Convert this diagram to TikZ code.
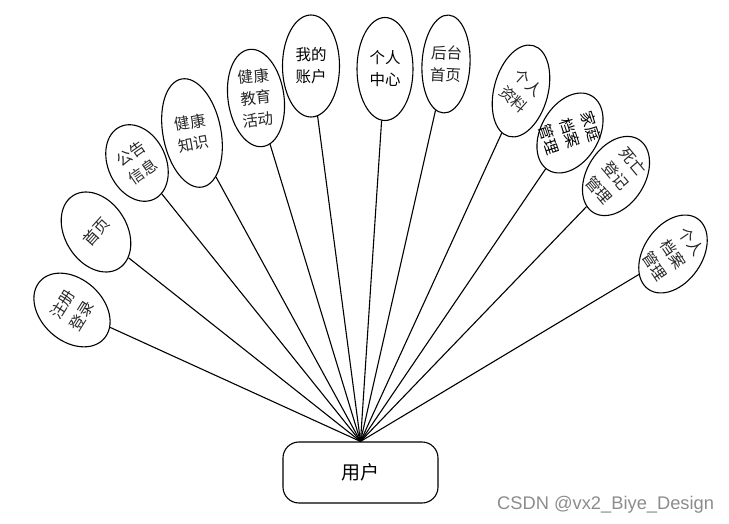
\documentclass[tikz,border=0pt]{standalone}
\usepackage{fontspec}
\setmainfont{Liberation Sans}
\newfontfamily\cjk{Noto Sans CJK SC}
\usetikzlibrary{shapes.geometric}
\begin{document}
\begin{tikzpicture}[x=1pt,y=1pt,
  bub/.style={draw, ellipse, line width=1.1pt, inner sep=0pt},
  lbl/.style={font=\cjk\fontsize{15.5}{22}\selectfont, align=center, inner sep=0pt, text=black!85},
  lbldark/.style={lbl, text=black},
  link/.style={line width=1.1pt},
  userbox/.style={draw, rounded corners=16pt, minimum width=155pt, minimum height=61pt, line width=1.1pt, font=\cjk\fontsize{19}{20}\selectfont}]
\useasboundingbox (0,0) rectangle (729,523);
% ellipses
\node[bub, minimum width=62pt, minimum height=86pt, rotate=48] (e1) at (72,213) {};
\node[bub, minimum width=62pt, minimum height=86pt, rotate=32] (e2) at (96,291) {};
\node[bub, minimum width=58pt, minimum height=80pt, rotate=25] (e3) at (137,360) {};
\node[bub, minimum width=58pt, minimum height=110pt, rotate=11] (e4) at (192,390) {};
\node[bub, minimum width=56pt, minimum height=98pt, rotate=8] (e5) at (256,425) {};
\node[bub, minimum width=57pt, minimum height=102pt] (e6) at (311,457) {};
\node[bub, minimum width=56pt, minimum height=103pt] (e7) at (385,454) {};
\node[bub, minimum width=48pt, minimum height=98pt, rotate=-3] (e8) at (446,459) {};
\node[bub, minimum width=54pt, minimum height=94pt, rotate=-15] (e9) at (521,432) {};
\node[bub, minimum width=58pt, minimum height=86pt, rotate=-30] (e10) at (570,390) {};
\node[bub, minimum width=58pt, minimum height=86pt, rotate=-32] (e11) at (616,347) {};
\node[bub, minimum width=58pt, minimum height=86pt, rotate=-35] (e12) at (673,269) {};
% labels
\node[lbl, rotate=58] (t1) at (e1.center) {注册\\登录};
\node[lbl, rotate=48] (t2) at (e2.center) {首页};
\node[lbl, rotate=35] (t3) at (e3.center) {公告\\信息};
\node[lbl, rotate=10] (t4) at (e4.center) {健康\\知识};
\node[lbl, rotate=6] (t5) at (e5.center) {健康\\教育\\活动};
\node[lbldark] (t6) at (e6.center) {我的\\账户};
\node[lbldark] (t7) at (e7.center) {个人\\中心};
\node[lbl, rotate=-3] (t8) at (e8.center) {后台\\首页};
\node[lbl, rotate=-42] (t9) at (e9.center) {个人\\资料};
\node[lbldark, rotate=-72] (t10) at (e10.center) {家庭\\档案\\管理};
\node[lbl, rotate=-50] (t11) at (e11.center) {死亡\\登记\\管理};
\node[lbl, rotate=-56] (t12) at (e12.center) {个人\\档案\\管理};
% user
\node[userbox] (user) at (360.5,50.5) {用户};
\foreach \i in {1,...,12} \draw[link] (user.north) -- (e\i);
% watermark
\node[font=\fontsize{18.3}{18}\selectfont, text=black!45, anchor=west, inner sep=0pt] (wm) at (497,18) {CSDN @vx2\_Biye\_Design};
\end{tikzpicture}
\end{document}
